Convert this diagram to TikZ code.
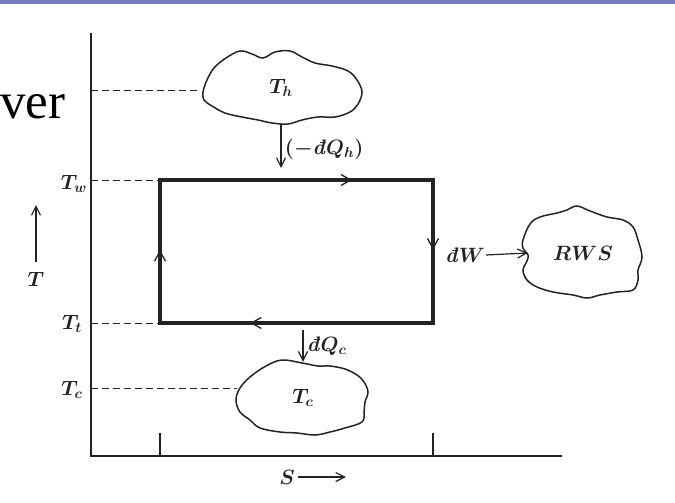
\documentclass[tikz,border=0pt]{standalone}
\usepackage{fontspec}
\usetikzlibrary{arrows.meta,decorations.markings}
\definecolor{slidebar}{RGB}{118,124,196}
\definecolor{ink}{RGB}{35,35,35}
\newfontfamily\slidefont{Liberation Serif}

\begin{document}
\begin{tikzpicture}[
        x=1pt, y=-1pt,
        every node/.style={font=\fontsize{21}{24}\selectfont\boldmath, text=ink},
        axis/.style={draw=ink, line width=1.6pt},
        guide/.style={draw=ink, dash pattern=on 7pt off 4pt, line width=0.9pt},
        cycleline/.style={draw=ink, line width=3.2pt, line join=miter},
        cloudline/.style={draw=ink, line width=1.5pt},
        flow/.style={draw=ink, line width=1.2pt, -{Straight Barb[length=9pt,width=9pt]}},
        reservoir/.style={minimum width=#1, minimum height=72pt, inner sep=0pt},
        midarrows/.style={postaction={decorate}, decoration={markings,
            mark=at position 0.231 with {\pgfsetlinewidth{1.3pt}\arrow{Straight Barb[length=10pt,width=11pt]}},
            mark=at position 0.412 with {\pgfsetlinewidth{1.3pt}\arrow{Straight Barb[length=10pt,width=11pt]}},
            mark=at position 0.720 with {\pgfsetlinewidth{1.3pt}\arrow{Straight Barb[length=10pt,width=11pt]}},
            mark=at position 0.916 with {\pgfsetlinewidth{1.3pt}\arrow{Straight Barb[length=10pt,width=11pt]}}}},
    ]
    \useasboundingbox (0,0) rectangle (675,503);
    \fill[slidebar] (0,0) rectangle (675,4);
    \node[font=\slidefont\fontsize{51}{51}\selectfont, text=black, anchor=base west, inner sep=0pt] (title) at (0,118) {ver};

    % axes
    \coordinate (o) at (91,456);
    \coordinate (ytop) at (91,33);
    \coordinate (xend) at (562,456);
    \draw[axis] (ytop) -- (o) -- (xend);

    % the cycle
    \coordinate (a) at (160,180);
    \coordinate (b) at (433,180);
    \coordinate (c) at (433,323);
    \coordinate (d) at (160,323);
    \draw[cycleline, midarrows] (a) -- (b) -- (c) -- (d) -- cycle;
    \draw[axis] (a |- o) -- ++(0,-23);
    \draw[axis] (b |- o) -- ++(0,-23);

    % reservoirs
    \node[reservoir=160pt] (hot) at (281,88) {$T_h$};
    \draw[cloudline] plot[smooth cycle, tension=0.6] coordinates {
        (203,92) (207,80) (214,68) (226,58) (240,51) (252,54) (263,58) (275,52)
        (290,51) (302,57) (315,63) (332,66) (348,71) (357,80) (362,92) (358,104)
        (350,112) (335,117) (318,117) (302,120) (288,124) (272,123) (258,120)
        (242,117) (225,113) (212,106) (204,100)};
    \node[reservoir=132pt] (cold) at (303,398) {$T_c$};
    \draw[cloudline] plot[smooth cycle, tension=0.6] coordinates {
        (240,388) (250,377) (266,366) (282,360) (302,363) (318,366) (330,366)
        (345,369) (357,375) (364,382) (368,392) (365,402) (364,412) (362,422)
        (345,428) (330,432) (315,435) (297,433) (280,432) (260,428) (250,420)
        (240,412) (236,400)};
    \node[reservoir=110pt] (rws) at (583,253) {$RWS$};
    \draw[cloudline] plot[smooth cycle, tension=0.6] coordinates {
        (523,240) (530,224) (540,217) (557,213) (567,210) (577,206) (590,211)
        (607,217) (623,220) (633,227) (638,240) (642,257) (638,270) (638,280)
        (633,290) (617,292) (600,295) (587,298) (573,295) (553,292) (537,287)
        (527,280) (523,270) (527,261) (528,255) (523,248)};

    % temperature levels
    \coordinate (yTh) at (91,90);
    \coordinate (yTc) at (91,388);
    \draw[guide] (yTh) -- (yTh -| hot.west);
    \draw[guide] (91,180) -- (a);
    \draw[guide] (91,323) -- (d);
    \draw[guide] (yTc) -- (yTc -| cold.west);
    \node (lTw) at (74,184) {$T_w$};
    \node (lTt) at (72,324) {$T_t$};
    \node (lTc) at (72,390) {$T_c$};

    % heat and work
    \coordinate (qhend) at (281,168);
    \draw[flow] (hot.south) -- (qhend) node[midway, right, xshift=0pt, yshift=-3pt] (qh) {$(-$\textbf{\textit{đ}}$Q_h)$};
    \coordinate (qcstart) at (303,330);
    \draw[flow] (qcstart) -- (cold.north) node[midway, right, xshift=0pt] (qc) {\textbf{\textit{đ}}$Q_c$};
    \node[inner sep=1pt] (dw) at (465,255) {\textbf{\textit{đ}}$W$};
    \draw[flow] (dw.east) -- (rws.west);

    % axis labels
    \node (tlab) at (36,279) {$T$};
    \coordinate (tup) at (36,205);
    \draw[flow] (tlab.north) ++(0,-6) -- (tup);
    \node (slab) at (287,477) {$S$};
    \coordinate (sarr) at (346,477);
    \draw[flow] (slab.east) -- (sarr);
\end{tikzpicture}
\end{document}
